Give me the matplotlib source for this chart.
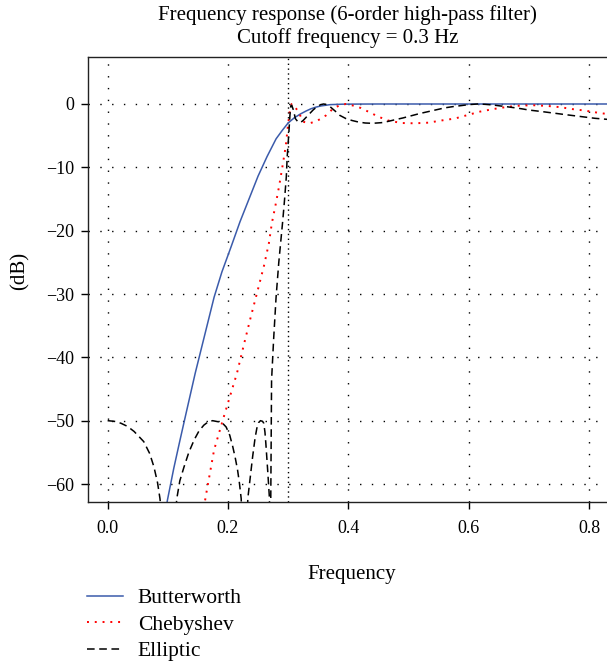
import matplotlib
matplotlib.use('Agg')
import matplotlib.pyplot as plt

plt.rcParams['font.family'] = ['Liberation Serif', 'DejaVu Serif']

# values (frequency, dB)
butter_f = [0.095, 0.0995, 0.11, 0.12, 0.13, 0.1456, 0.16, 0.177, 0.19, 0.205,
            0.22, 0.235, 0.25, 0.265, 0.28, 0.29, 0.30, 0.31, 0.32, 0.33, 0.338,
            0.346, 0.355, 0.37, 0.39, 0.42, 0.45, 0.6, 0.84]
butter_db = [-65, -62.5, -57.5, -53.2, -49, -42.5, -37, -30.5, -26.5, -22.6,
             -18.6, -15, -11.4, -8.3, -5.5, -4.2, -3.0, -2.2, -1.6, -1.1, -0.75,
             -0.5, -0.3, -0.1, -0.03, -0.01, 0, 0, 0]

cheby_f = [0.158, 0.163, 0.177, 0.194, 0.215, 0.227, 0.238, 0.2495, 0.26, 0.268,
           0.273, 0.279, 0.285, 0.290, 0.296, 0.300, 0.303, 0.306, 0.310, 0.317,
           0.325, 0.335, 0.345, 0.353, 0.363, 0.375, 0.386, 0.396, 0.406, 0.42,
           0.433, 0.45, 0.466, 0.488, 0.51, 0.533, 0.555, 0.577, 0.60, 0.619,
           0.641, 0.663, 0.686, 0.708, 0.73, 0.752, 0.772, 0.794, 0.816, 0.84]
cheby_db = [-65, -62, -54.6, -49.1, -42.5, -37.8, -33.6, -29.4, -25.5, -22,
            -18.8, -16, -13, -10.2, -6.7, -3.2, -1.0, 0.0, -0.3, -1.2,
            -2.8, -3.05, -2.8, -2.4, -1.8, -0.7, -0.2, 0.0, -0.2, -0.6,
            -1.2, -2.0, -2.6, -3.0, -3.05, -2.95, -2.6, -2.3, -1.7, -1.2,
            -0.8, -0.47, -0.25, -0.2, -0.3, -0.5, -0.8, -1.05, -1.4, -1.7]

ellip_f = [0.000, 0.011, 0.022, 0.033, 0.044, 0.060, 0.070, 0.077, 0.083, 0.087,
           0.095, 0.101, 0.108, 0.115, 0.120, 0.127, 0.135, 0.144, 0.152, 0.160,
           0.167, 0.1745, 0.1855, 0.192, 0.197, 0.203, 0.208, 0.212, 0.216, 0.219,
           0.222, 0.225, 0.228, 0.231, 0.233, 0.237, 0.241, 0.245, 0.248, 0.251,
           0.254, 0.2575, 0.2595, 0.2615, 0.263, 0.266, 0.269, 0.2700, 0.2712, 0.2725,
           0.276, 0.280, 0.2845, 0.288, 0.291, 0.294, 0.297, 0.2985, 0.301, 0.303,
           0.3045, 0.306, 0.309, 0.312, 0.317, 0.321, 0.325, 0.330, 0.336, 0.342,
           0.348, 0.354, 0.359, 0.364, 0.370, 0.378, 0.386, 0.396, 0.406, 0.417,
           0.428, 0.44, 0.455, 0.466, 0.477, 0.491, 0.505, 0.519, 0.533, 0.547,
           0.561, 0.575, 0.588, 0.600, 0.615, 0.627, 0.640, 0.652, 0.665, 0.677,
           0.689, 0.700, 0.722, 0.744, 0.766, 0.788, 0.810, 0.84]
ellip_db = [-50.0, -50.1, -50.4, -50.9, -51.7, -53.3, -55.2, -57.3, -59.8, -62.3,
            -70, -80, -70, -62.3, -59.5, -57.3, -55.0, -53.0, -51.6, -50.7,
            -50.2, -50.0, -50.2, -50.5, -51.0, -52.3, -54.1, -55.8, -57.8, -59.8,
            -62.3, -70, -80, -70, -62.3, -59.0, -55.7, -52.8, -51.2, -50.3,
            -50.0, -50.1, -50.4, -51.8, -53.6, -57.8, -62.3, -75, -62, -43.6,
            -37, -30.5, -25, -21.5, -18.5, -15.2, -11.5, -8.3, -4.9, -1.8,
            -0.3, -0.2, -1.0, -2.3, -2.9, -2.9, -2.6, -2.1, -1.5, -0.9,
            -0.45, -0.1, 0.0, -0.1, -0.45, -1.1, -1.8, -2.3, -2.6, -2.85,
            -3.0, -3.05, -2.95, -2.75, -2.5, -2.2, -1.85, -1.5, -1.2, -0.9,
            -0.6, -0.4, -0.25, -0.1, 0.0, -0.05, -0.15, -0.3, -0.45, -0.6,
            -0.77, -0.95, -1.2, -1.47, -1.74, -2.0, -2.26, -2.5]

cutoff = 0.3
x_ticks = [0.0, 0.2, 0.4, 0.6, 0.8]
x_labels = ['0.0', '0.2', '0.4', '0.6', '0.8']
y_ticks = [0, -10, -20, -30, -40, -50, -60]
y_labels = ['0', '\u221210', '\u221220', '\u221230', '\u221240', '\u221250', '\u221260']

fig = plt.figure(figsize=(6.07, 6.65), dpi=100)
ax = fig.add_axes([88 / 607, 163 / 665, 1 - 88 / 607, 445 / 665])

ax.plot(butter_f, butter_db, color='#3b5bab', lw=1.1, label='Butterworth')
ax.plot(cheby_f, cheby_db, color='red', lw=1.4, linestyle=(0, (1, 3)), label='Chebyshev')
ax.plot(ellip_f, ellip_db, color='black', lw=1.1, linestyle=(0, (5, 3)), label='Elliptic')

ax.axvline(cutoff, color='black', lw=1.0, linestyle=(0, (1, 2.5)), zorder=0)
ax.grid(True, color='black', lw=1.0, linestyle=(0, (1, 7.5)))
ax.set_axisbelow(True)

ax.set_xlim(-0.0326, 0.830)
ax.set_ylim(-62.84, 7.42)
ax.set_xticks(x_ticks)
ax.set_xticklabels(x_labels)
ax.set_yticks(y_ticks)
ax.set_yticklabels(y_labels)
ax.tick_params(direction='out', length=5, width=1.0, labelsize=13, pad=5)
ax.tick_params(axis='x', pad=8)
ax.spines['right'].set_visible(False)
for s in ['left', 'bottom', 'top']:
    ax.spines[s].set_linewidth(1.0)
    ax.spines[s].set_color('#222222')

ax.set_xlabel('Frequency', fontsize=15)
ax.xaxis.set_label_coords(0.509, -0.141)
ax.set_ylabel('(dB)', fontsize=15)
ax.yaxis.set_label_coords(-0.112, 0.52)

fig.text(347.5 / 607, 1 - 15 / 665, 'Frequency response (6-order high-pass filter)',
         ha='center', va='center', fontsize=15)
fig.text(347.5 / 607, 1 - 38 / 665, 'Cutoff frequency = 0.3 Hz',
         ha='center', va='center', fontsize=15)

ax.legend(loc='upper left', bbox_to_anchor=(87 / 607, 1 - 588 / 665),
          bbox_transform=fig.transFigure, frameon=False, fontsize=15.5,
          handlelength=1.68, handletextpad=0.68, labelspacing=0.3,
          borderpad=0, borderaxespad=0)

fig.savefig('out.png', dpi=100)
